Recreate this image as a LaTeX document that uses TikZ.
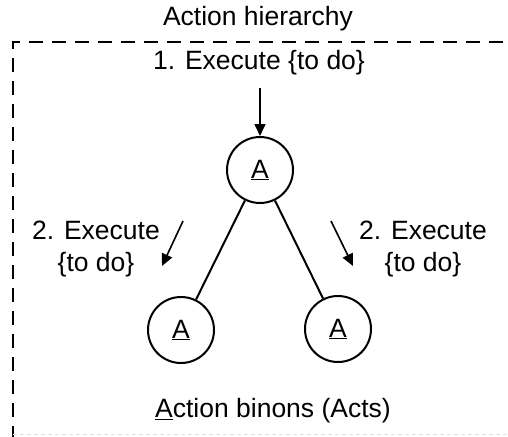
\documentclass[tikz,border=0pt]{standalone}
\usepackage{fontspec}
\setmainfont{Liberation Sans}
\usetikzlibrary{arrows.meta}
\begin{document}
\begin{tikzpicture}[x=1pt,y=-1pt,
  lbl/.style={font=\fontsize{26.5}{32}\selectfont, align=center, inner sep=0pt},
  binon/.style={circle, draw, line width=2pt, minimum size=66pt, inner sep=0pt,
                font=\fontsize{26.5}{32}\selectfont},
  link/.style={line width=2pt},
  exec/.style={line width=1.6pt, -{Triangle[length=12pt,width=11pt]}},
  frame/.style={line width=1.6pt, dash pattern=on 14pt off 9pt}]
\useasboundingbox (0,0) rectangle (508,436);

% enclosing dashed frame (top and left sides)
\coordinate (fl) at (13,440);
\coordinate (fc) at (13,42);
\coordinate (fr) at (512,42);
\draw[frame] (fl) -- (fc) -- (fr);
\coordinate (bl) at (13,434);
\coordinate (br) at (508,434);
\draw[black!12, line width=1pt, dash pattern=on 4pt off 3pt] (bl) -- (br);

\node[lbl] (title) at (258,19) {Action hierarchy};
\node[lbl] (step1) at (259,63) {1. Execute \{to do\}};

% action binons
\node[binon] (top) at (260,170) {\underline{A}};
\node[binon] (left) at (181,330) {\underline{A}};
\node[binon] (right) at (338,329) {\underline{A}};
\draw[link] (top) -- (left);
\draw[link] (top) -- (right);

% execution arrows
\coordinate (a0) at (260,88);
\draw[exec] (a0) -- (top.north);
\coordinate (l0) at (183,221);
\coordinate (l1) at (162,266);
\draw[exec] (l0) -- (l1);
\coordinate (r0) at (331,221);
\coordinate (r1) at (353,266);
\draw[exec] (r0) -- (r1);

\node[lbl] (step2l) at (96,249) {2. Execute\\\{to do\}};
\node[lbl] (step2r) at (423,249) {2. Execute\\\{to do\}};

\node[lbl] (acts) at (273,411) {\underline{A}ction binons (Acts)};
\end{tikzpicture}
\end{document}
